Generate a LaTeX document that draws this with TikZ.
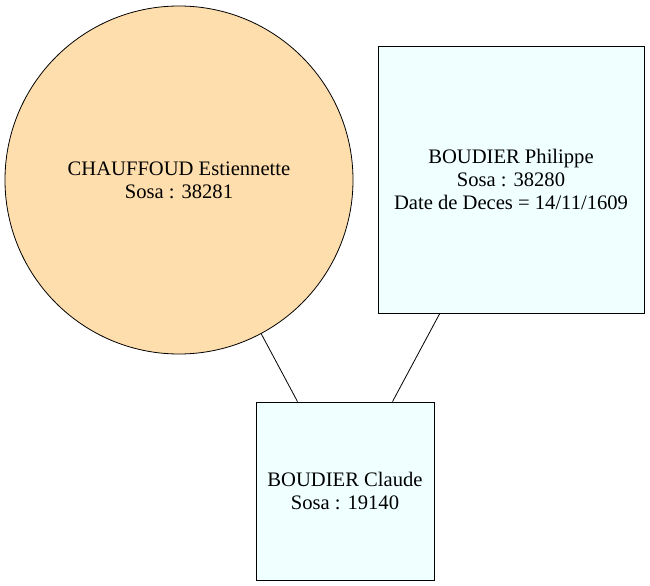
\documentclass[tikz,border=0pt]{standalone}
\usepackage{fontspec}
\setmainfont{Liberation Serif}
\definecolor{navajo}{HTML}{FFDEAD}
\definecolor{azur}{HTML}{F0FFFF}
\tikzset{
  person/.style={draw=black,line width=0.8bp,align=center,inner sep=0pt,
    font=\fontsize{20.6bp}{23bp}\selectfont},
  femme/.style={person,circle,fill=navajo,minimum size=348bp},
  homme/.style={person,rectangle,fill=azur}
}
\begin{document}
\begin{tikzpicture}[x=1bp,y=-1bp]
\useasboundingbox (0,0) rectangle (650,586);
\node[femme] (estiennette) at (179,180) {CHAUFFOUD Estiennette\\Sosa : 38281};
\node[homme,minimum width=266bp,minimum height=267bp] (philippe) at (511,179.5)
  {BOUDIER Philippe\\Sosa : 38280\\Date de Deces = 14/11/1609};
\node[homme,minimum width=178bp,minimum height=178bp] (claude) at (345,491)
  {BOUDIER Claude\\Sosa : 19140};
\draw[line width=0.8bp] (estiennette)--(claude);
\draw[line width=0.8bp] (philippe)--(claude);
\end{tikzpicture}
\end{document}
